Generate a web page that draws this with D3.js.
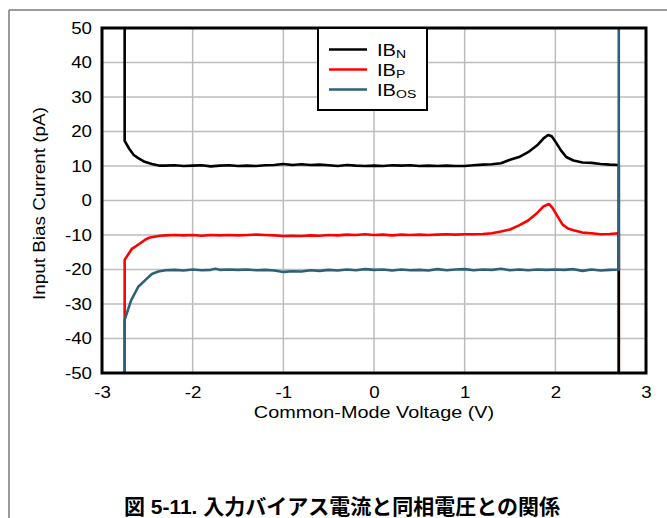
<!DOCTYPE html>
<html>
<head>
<meta charset="utf-8">
<script src="https://cdn.jsdelivr.net/npm/d3@7"></script>
<style>
  html, body { margin: 0; padding: 0; background: #fff; }
  svg { display: block; }
  text { font-family: "Liberation Sans", Arial, "Noto Sans CJK JP", sans-serif; }
</style>
</head>
<body>
<svg id="chart" width="667" height="518"></svg>
<script>
// ---- data ----
const xTicks = [-3, -2, -1, 0, 1, 2, 3];
const yTicks = [-50, -40, -30, -20, -10, 0, 10, 20, 30, 40, 50];
const seriesNames = ["N", "P", "OS"];
const seriesColors = ["#000000", "#ff0000", "#2f6079"];

const ibN = [
  [-2.75, 50], [-2.75, 17.3], [-2.70, 15.0], [-2.65, 13.2], [-2.60, 12.3], [-2.53, 11.2], [-2.45, 10.6],
  [-2.36, 10.1], [-2.3, 10.1], [-2.2, 10.2], [-2.1, 10.0], [-2.0, 10.1], [-1.9, 10.2], [-1.8, 9.9],
  [-1.7, 10.1], [-1.6, 10.2], [-1.5, 10.0], [-1.4, 10.1], [-1.3, 10.0], [-1.2, 10.2], [-1.1, 10.3],
  [-1.0, 10.6], [-0.9, 10.3], [-0.8, 10.5], [-0.7, 10.3], [-0.6, 10.4], [-0.5, 10.2], [-0.4, 10.0],
  [-0.3, 10.3], [-0.2, 10.1], [-0.1, 10.0], [0.0, 10.1], [0.1, 10.0], [0.2, 10.2], [0.3, 10.1],
  [0.4, 10.2], [0.5, 10.0], [0.6, 10.1], [0.7, 10.0], [0.8, 10.1], [0.9, 10.0], [1.0, 10.0],
  [1.1, 10.2], [1.2, 10.4], [1.3, 10.5], [1.4, 10.8], [1.5, 11.8], [1.6, 12.6], [1.7, 14.0],
  [1.8, 16.0], [1.87, 18.0], [1.92, 19.0], [1.96, 18.6], [2.01, 16.7], [2.06, 14.6], [2.12, 12.6],
  [2.2, 11.6], [2.3, 11.0], [2.4, 10.9], [2.5, 10.6], [2.6, 10.4], [2.7, 10.3], [2.7, -50]
];
const ibP = [
  [-2.75, -50], [-2.75, -17.2], [-2.67, -14.0], [-2.59, -12.6], [-2.52, -11.3], [-2.47, -10.7],
  [-2.36, -10.2], [-2.3, -10.1], [-2.2, -10.0], [-2.1, -10.1], [-2.0, -10.0], [-1.9, -10.2],
  [-1.8, -10.0], [-1.7, -10.1], [-1.6, -10.0], [-1.5, -10.1], [-1.4, -10.0], [-1.3, -9.9],
  [-1.2, -10.0], [-1.1, -10.1], [-1.0, -10.3], [-0.9, -10.2], [-0.8, -10.3], [-0.7, -10.1],
  [-0.6, -10.2], [-0.5, -10.0], [-0.4, -10.1], [-0.3, -9.9], [-0.2, -10.0], [-0.1, -9.8],
  [0.0, -10.0], [0.1, -9.9], [0.2, -10.1], [0.3, -9.9], [0.4, -10.0], [0.5, -9.9], [0.6, -10.0],
  [0.7, -9.9], [0.8, -9.8], [0.9, -9.9], [1.0, -9.8], [1.1, -9.8], [1.2, -9.7], [1.3, -9.5],
  [1.4, -9.0], [1.5, -8.4], [1.6, -7.2], [1.7, -5.8], [1.8, -3.6], [1.87, -1.7], [1.93, -1.0],
  [1.97, -2.2], [2.02, -4.4], [2.08, -7.0], [2.14, -8.1], [2.2, -8.6], [2.3, -9.3], [2.4, -9.5],
  [2.5, -9.8], [2.6, -9.7], [2.7, -9.5], [2.7, -50]
];
const ibOS = [
  [-2.75, -50], [-2.75, -34.6], [-2.68, -29.0], [-2.6, -25.0], [-2.52, -23.0], [-2.45, -21.3],
  [-2.38, -20.6], [-2.3, -20.2], [-2.2, -20.1], [-2.1, -20.3], [-2.0, -20.0], [-1.9, -20.2],
  [-1.8, -20.1], [-1.75, -19.8], [-1.7, -20.1], [-1.6, -20.0], [-1.5, -20.1], [-1.4, -20.0],
  [-1.3, -20.2], [-1.2, -20.1], [-1.1, -20.3], [-1.0, -20.7], [-0.9, -20.5], [-0.8, -20.6],
  [-0.7, -20.2], [-0.6, -20.4], [-0.5, -20.1], [-0.4, -20.3], [-0.3, -20.0], [-0.2, -20.2],
  [-0.1, -19.9], [0.0, -20.1], [0.1, -20.0], [0.2, -20.3], [0.3, -20.0], [0.4, -20.2],
  [0.5, -20.1], [0.6, -20.3], [0.7, -19.9], [0.8, -20.2], [0.9, -20.0], [1.0, -19.9],
  [1.1, -20.2], [1.2, -20.0], [1.3, -20.1], [1.4, -19.8], [1.5, -20.2], [1.6, -20.0],
  [1.7, -20.2], [1.8, -20.0], [1.9, -20.1], [2.0, -20.0], [2.1, -20.1], [2.2, -19.9],
  [2.3, -20.4], [2.4, -20.0], [2.5, -20.3], [2.6, -20.1], [2.7, -20.0], [2.7, 50]
];
const seriesData = [ibN, ibP, ibOS];
const drawOrder = [1, 0, 2];

const xLabel = "Common-Mode Voltage (V)";
const yLabel = "Input Bias Current (pA)";
const title = "図 5-11. 入力バイアス電流と同相電圧との関係";

// ---- layout ----
const W = 667, H = 518;
const m = { left: 102, right: 646, top: 28, bottom: 373 };
const FS = 16;          // base font size
const SX_TICK = 1.17;   // horizontal stretch of tick labels
const svg = d3.select("#chart");

svg.append("rect").attr("width", W).attr("height", H).attr("fill", "#fff");

// outer frame lines
svg.append("line").attr("x1", 9).attr("x2", W).attr("y1", 10).attr("y2", 10)
  .attr("stroke", "#7a7a7a").attr("stroke-width", 1.5);
svg.append("line").attr("x1", 9).attr("x2", 9).attr("y1", 10).attr("y2", H)
  .attr("stroke", "#7a7a7a").attr("stroke-width", 1.5);

const x = d3.scaleLinear().domain([-3, 3]).range([m.left, m.right]);
const y = d3.scaleLinear().domain([-50, 50]).range([m.bottom, m.top]);

// grid
const grid = svg.append("g");
grid.selectAll("line.v").data(xTicks.slice(1, -1)).join("line")
  .attr("x1", d => x(d)).attr("x2", d => x(d)).attr("y1", m.top).attr("y2", m.bottom)
  .attr("stroke", "#bdbdbd").attr("stroke-width", 1.5);
grid.selectAll("line.h").data(yTicks.slice(1, -1)).join("line")
  .attr("x1", m.left).attr("x2", m.right).attr("y1", d => y(d)).attr("y2", d => y(d))
  .attr("stroke", "#bdbdbd").attr("stroke-width", 1.5);

// axes tick labels via d3 axes
const fmt = d => String(d);
const xAxis = d3.axisBottom(x).tickValues(xTicks).tickSize(0).tickPadding(14).tickFormat(fmt);
const gx = svg.append("g").attr("transform", `translate(0,${m.bottom})`).call(xAxis);
gx.select(".domain").remove();
gx.attr("font-size", FS).attr("font-family", "'Liberation Sans', Arial, sans-serif");
gx.selectAll("text").attr("fill", "#000").attr("transform", `scale(${SX_TICK},1)`);

const yPad = 10;
const yAxis = d3.axisLeft(y).tickValues(yTicks).tickSize(0).tickPadding(yPad).tickFormat(fmt);
const gy = svg.append("g").attr("transform", `translate(${m.left},0)`).call(yAxis);
gy.select(".domain").remove();
gy.attr("font-size", FS).attr("font-family", "'Liberation Sans', Arial, sans-serif");
gy.selectAll("text").attr("fill", "#000").attr("x", -yPad / SX_TICK)
  .attr("transform", `scale(${SX_TICK},1)`);

// lines
const line = d3.line().x(d => x(d[0])).y(d => y(d[1]));
svg.append("clipPath").attr("id", "plotclip").append("rect")
  .attr("x", m.left).attr("y", m.top).attr("width", m.right - m.left).attr("height", m.bottom - m.top);
svg.append("g").attr("clip-path", "url(#plotclip)")
  .selectAll("path").data(drawOrder).join("path")
  .attr("d", i => line(seriesData[i])).attr("fill", "none")
  .attr("stroke", i => seriesColors[i]).attr("stroke-width", 2.6)
  .attr("stroke-linejoin", "round");

// plot border
svg.append("rect").attr("x", m.left).attr("y", m.top)
  .attr("width", m.right - m.left).attr("height", m.bottom - m.top)
  .attr("fill", "none").attr("stroke", "#000").attr("stroke-width", 3);

// legend
const lg = svg.append("g");
lg.append("rect").attr("x", 318).attr("y", 28).attr("width", 109).attr("height", 82)
  .attr("fill", "#fff").attr("stroke", "#000").attr("stroke-width", 2);
seriesNames.forEach((s, i) => {
  const yy = 49.5 + i * 20;
  lg.append("line").attr("x1", 329).attr("x2", 367).attr("y1", yy).attr("y2", yy)
    .attr("stroke", seriesColors[i]).attr("stroke-width", 2.6);
  const t = lg.append("text").attr("transform", `translate(377,${yy + 6}) scale(1.22,1)`)
    .attr("font-size", 16.5).attr("fill", "#000");
  t.append("tspan").text("IB");
  t.append("tspan").attr("font-size", 11.5).attr("dy", 2).text(s);
});

// axis titles
svg.append("text").attr("transform", `translate(${(m.left + m.right) / 2},418) scale(1.24,1)`)
  .attr("text-anchor", "middle").attr("font-size", FS).text(xLabel);
svg.append("text").attr("transform", `translate(45,${(m.top + m.bottom) / 2 + 3}) rotate(-90) scale(1.18,1)`)
  .attr("text-anchor", "middle").attr("font-size", FS).text(yLabel);

// figure title
svg.append("text").attr("x", 342).attr("y", 514).attr("text-anchor", "middle")
  .attr("font-size", 21).attr("font-weight", "bold")
  .attr("font-family", "'Liberation Sans', Arial, 'Noto Sans CJK JP', sans-serif")
  .text(title);
</script>
</body>
</html>
